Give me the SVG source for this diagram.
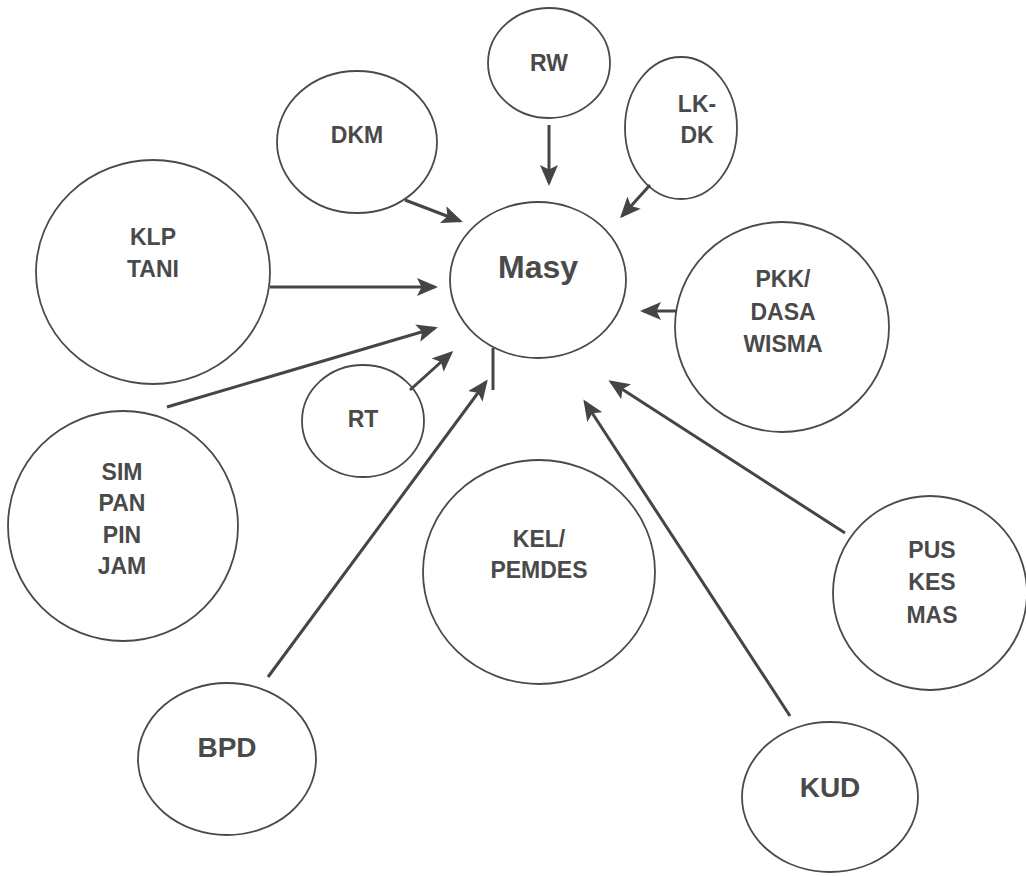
<svg xmlns="http://www.w3.org/2000/svg" width="1026" height="876" viewBox="0 0 1026 876">
<style>
.n{fill:#fff;stroke:#4a4a4a;stroke-width:1.8}
.t{font-family:"Liberation Sans",Arial,sans-serif;font-weight:bold;font-size:23px;fill:#4a4a4a;text-anchor:middle}
.c{stroke:#454545;stroke-width:3;fill:none}
</style>
<defs>
<marker id="ah" markerWidth="7" markerHeight="6" refX="6" refY="3" orient="auto" markerUnits="strokeWidth">
<path d="M0,0 L7,3 L0,6 L1.5,3 Z" fill="#454545"/>
</marker>
</defs>
<rect width="1026" height="876" fill="#fff"/>
<g id="n-rw"><ellipse class="n" cx="549" cy="63" rx="61" ry="55"/><text class="t" x="549" y="71">RW</text></g>
<g id="n-dkm"><ellipse class="n" cx="357" cy="142" rx="80" ry="71"/><text class="t" x="357" y="143">DKM</text></g>
<g id="n-lkdk"><ellipse class="n" cx="681" cy="128" rx="56" ry="71"/><text class="t" x="697" y="112">LK-</text><text class="t" x="697" y="143">DK</text></g>
<g id="n-masy"><ellipse class="n" cx="538" cy="280" rx="88" ry="78"/><text class="t" x="538" y="278" style="font-size:32px">Masy</text></g>
<g id="n-klp"><ellipse class="n" cx="153" cy="272" rx="117" ry="112"/><text class="t" x="153" y="245">KLP</text><text class="t" x="153" y="277">TANI</text></g>
<g id="n-pkk"><ellipse class="n" cx="782" cy="327" rx="107" ry="105"/><text class="t" x="783" y="287">PKK/</text><text class="t" x="783" y="320">DASA</text><text class="t" x="783" y="352">WISMA</text></g>
<g id="n-rt"><ellipse class="n" cx="363" cy="421" rx="61" ry="56"/><text class="t" x="363" y="427">RT</text></g>
<g id="n-sim"><ellipse class="n" cx="123" cy="526" rx="115" ry="115"/><text class="t" x="122" y="480">SIM</text><text class="t" x="122" y="511">PAN</text><text class="t" x="122" y="543">PIN</text><text class="t" x="122" y="574">JAM</text></g>
<g id="n-kel"><ellipse class="n" cx="539" cy="572" rx="116" ry="112"/><text class="t" x="539" y="547">KEL/</text><text class="t" x="539" y="578">PEMDES</text></g>
<g id="n-pus"><ellipse class="n" cx="930" cy="593" rx="97" ry="97"/><text class="t" x="932" y="558">PUS</text><text class="t" x="932" y="590">KES</text><text class="t" x="932" y="623">MAS</text></g>
<g id="n-bpd"><ellipse class="n" cx="227" cy="759" rx="89" ry="76"/><text class="t" x="227" y="757" style="font-size:28px">BPD</text></g>
<g id="n-kud"><ellipse class="n" cx="830" cy="797" rx="88" ry="75"/><text class="t" x="830" y="797" style="font-size:28px">KUD</text></g>
<g id="connectors">
<line class="c" x1="549" y1="125" x2="549" y2="183" marker-end="url(#ah)"/>
<line class="c" x1="405" y1="200" x2="460" y2="221" marker-end="url(#ah)"/>
<line class="c" x1="650" y1="185" x2="622" y2="216" marker-end="url(#ah)"/>
<line class="c" x1="270" y1="287" x2="435" y2="287" marker-end="url(#ah)"/>
<line class="c" x1="677" y1="311" x2="643" y2="311" marker-end="url(#ah)"/>
<line class="c" x1="167" y1="407" x2="435" y2="328" marker-end="url(#ah)"/>
<line class="c" x1="410" y1="390" x2="451" y2="353" marker-end="url(#ah)"/>
<line class="c" x1="493" y1="348" x2="493" y2="390"/>
<line class="c" x1="268" y1="677" x2="486" y2="382" marker-end="url(#ah)"/>
<line class="c" x1="790" y1="716" x2="585" y2="402" marker-end="url(#ah)"/>
<line class="c" x1="845" y1="533" x2="611" y2="382" marker-end="url(#ah)"/>
</g>
</svg>
